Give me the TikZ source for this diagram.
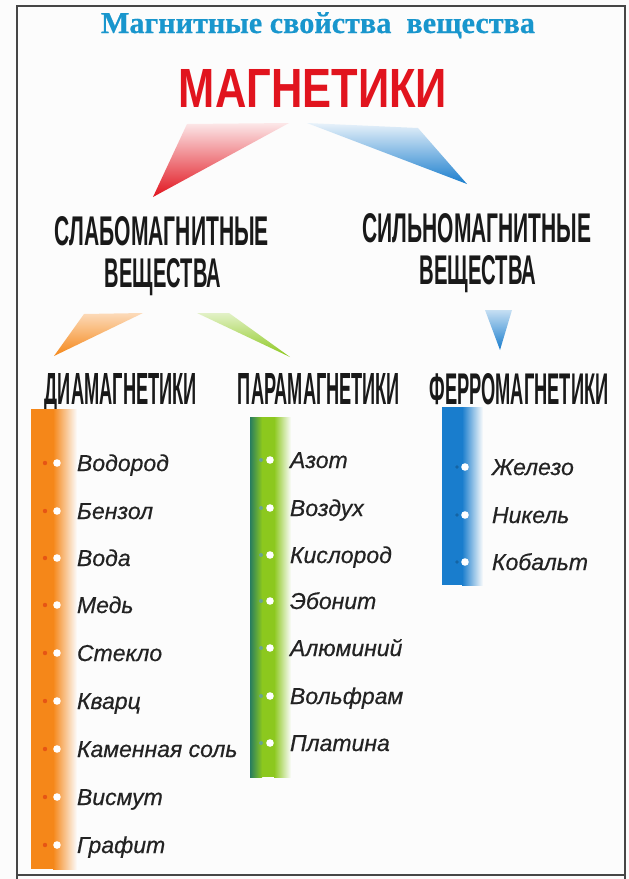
\documentclass[tikz,border=0pt]{standalone}
\usepackage{fontspec}
\usepackage{graphicx}
\setmainfont{Liberation Sans}
\newfontfamily\titleserif[FakeBold=0.6]{Liberation Serif}
\newfontfamily\itemfont[FakeBold=0.5]{Liberation Sans}
\definecolor{bgwhite}{RGB}{252,252,252}
\definecolor{framegray}{RGB}{70,70,70}
\definecolor{titleblue}{RGB}{25,150,205}
\definecolor{magred}{RGB}{225,20,30}
\definecolor{headblack}{RGB}{25,25,25}
\definecolor{itemgray}{RGB}{35,35,35}
\definecolor{orng}{RGB}{245,135,25}
\definecolor{orngdot}{RGB}{230,85,20}
\definecolor{dgreen}{RGB}{40,125,95}
\definecolor{lgreen}{RGB}{140,200,30}
\definecolor{blu}{RGB}{25,125,205}
\newcommand{\headtxt}[3]{\resizebox{#1pt}{#2pt}{\bfseries #3}}
\tikzset{
  head/.style={anchor=base, inner sep=0pt, outer sep=0pt, text=headblack},
  itemtext/.style={anchor=base west, inner sep=0pt, outer sep=0pt, text=itemgray, font=\itemfont\fontsize{23}{23}\selectfont\itshape},
  glow/.style={fill=white},
}
\begin{document}
\begin{tikzpicture}[x=1pt,y=-1pt]
\useasboundingbox (0,0) rectangle (629,879);
\fill[bgwhite] (0,0) rectangle (629,879);
% frame
\draw[framegray, line width=2pt] (17,879) -- (17,6) -- (625,6) -- (625,879);
\draw[framegray, line width=2pt] (17,875) -- (625,875);

% title
\node[anchor=base, inner sep=0pt, text=titleblue] (title) at (318,33)
  {\resizebox{434pt}{!}{\titleserif\bfseries Магнитные свойства\ \ вещества}};
\node[anchor=base, inner sep=0pt, text=magred] (mag) at (313,107)
  {\resizebox{268pt}{38pt}{\bfseries МАГНЕТИКИ}};

% big wedges
\shade[top color=magred!10, bottom color=magred] (187,124) -- (289,123) -- (153,197) -- cycle;
\shade[top color=blu!10, bottom color=blu] (307,123) -- (418,128) -- (467,184) -- cycle;

% second level
\node[head] (weak1) at (162,245) {\headtxt{214}{29}{СЛАБОМАГНИТНЫЕ}};
\node[head] (weak2) at (163,287) {\headtxt{116}{29}{ВЕЩЕСТВА}};
\node[head] (strong1) at (477,242) {\headtxt{229}{29}{СИЛЬНОМАГНИТНЫЕ}};
\node[head] (strong2) at (478,284) {\headtxt{117}{29}{ВЕЩЕСТВА}};

% small wedges
\shade[top color=orng!30, bottom color=orng] (84,314) -- (143,313) -- (54,356) -- cycle;
\shade[top color=lgreen!25, bottom color=lgreen] (197,313) -- (229,313) -- (290,357) -- cycle;
\shade[top color=blu!25, bottom color=blu] (485,310) -- (512,310) -- (500,350) -- cycle;

% third level headings
\node[head] (dia) at (121,404) {\headtxt{152}{31}{ДИАМАГНЕТИКИ}};
\node[head] (para) at (319,404) {\headtxt{162}{31}{ПАРАМАГНЕТИКИ}};
\node[head] (ferro) at (519,404) {\headtxt{179}{31}{ФЕРРОМАГНЕТИКИ}};

% bars
\fill[orng] (31,409) rectangle (53,869);
\shade[left color=orng, right color=bgwhite] (53,409) rectangle (77,869);
\shade[left color=dgreen, right color=lgreen] (250,417) rectangle (262,777);
\fill[lgreen] (262,417) rectangle (274,777);
\shade[left color=lgreen, right color=bgwhite] (274,417) rectangle (291,777);
\fill[blu] (442,407) rectangle (462,585);
\shade[left color=blu, right color=bgwhite] (462,407) rectangle (483,585);

% diamagnetics
\foreach \y/\t [count=\i] in {463/Водород,511/Бензол,558/Вода,605/Медь,653/Стекло,701/Кварц,749/Каменная соль,797/Висмут,845/Графит}{
  \fill[orngdot] (45,\y) circle (2.2);
  \fill[glow] (57,\y) circle (3.8);
  \node[itemtext] (d\i) at (77,\y+8) {\t};
}
% paramagnetics
\foreach \y/\t [count=\i] in {460/Азот,508/Воздух,555/Кислород,601/Эбонит,648/Алюминий,696/Вольфрам,743/Платина}{
  \fill[dgreen!70] (261,\y) circle (2);
  \fill[glow] (270,\y) circle (3.8);
  \node[itemtext] (p\i) at (290,\y+8) {\t};
}
% ferromagnetics
\foreach \y/\t [count=\i] in {467/Железо,515/Никель,562/Кобальт}{
  \fill[blu!80!black] (457,\y) circle (1.8);
  \fill[glow] (465,\y) circle (3.8);
  \node[itemtext] (f\i) at (492,\y+8) {\t};
}
\end{tikzpicture}
\end{document}
